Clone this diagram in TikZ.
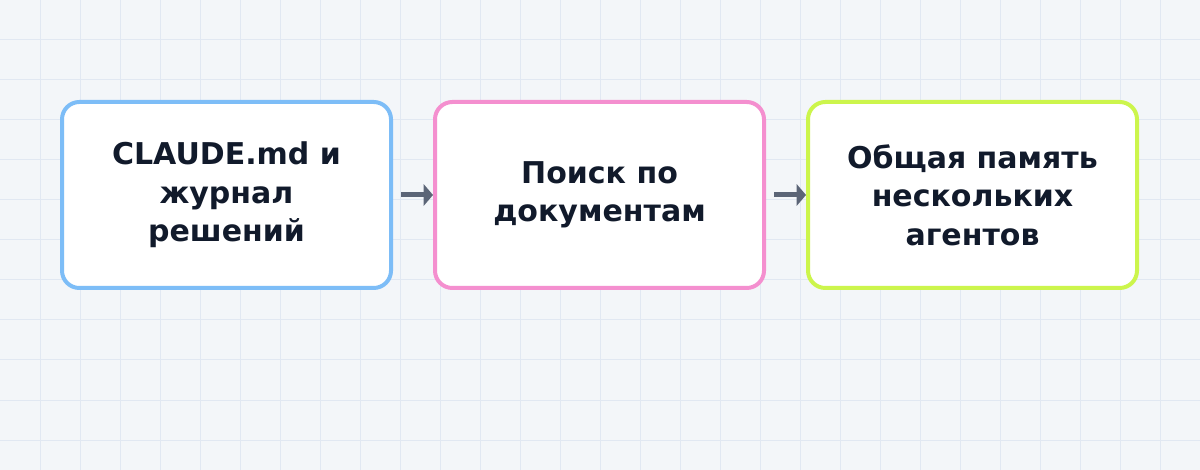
\documentclass[tikz,border=0pt]{standalone}
\usepackage{fontspec}
\setmainfont{DejaVu Sans}
\usetikzlibrary{arrows.meta}
\definecolor{bg}{HTML}{F3F6F9}
\definecolor{gridc}{HTML}{E1E8F2}
\definecolor{cblue}{HTML}{7DBDF7}
\definecolor{cpink}{HTML}{F48FCF}
\definecolor{clime}{HTML}{CCF54C}
\definecolor{ctext}{HTML}{111A2B}
\definecolor{carrow}{HTML}{5B6577}
\tikzset{
  card/.style={draw, fill=white, line width=3pt, rounded corners=13pt,
    minimum width=246.75pt, minimum height=139.5pt, align=center,
    text=ctext, font=\fontsize{22.5pt}{28.8pt}\selectfont\bfseries},
  link/.style={draw=carrow, line width=3.75pt,
    -{Triangle[length=7pt,width=16pt]}, shorten <=6pt}
}
\begin{document}
\begin{tikzpicture}[x=0.75pt,y=-0.75pt]
\fill[bg] (0,0) rectangle (1200,470);
\useasboundingbox (0,0) rectangle (1200,470);
\foreach \i in {40,80,...,1160} \draw[gridc, line width=0.75pt] (\i,0) -- (\i,470);
\foreach \j in {40,80,...,440} \draw[gridc, line width=0.75pt] (0,\j) -- (1200,\j);
\node[card, draw=cblue] (b1) at (226.5,195) {CLAUDE.md и\\журнал\\решений};
\node[card, draw=cpink] (b2) at (599.5,195) {Поиск по\\документам};
\node[card, draw=clime] (b3) at (972.5,195) {Общая память\\нескольких\\агентов};
\draw[link] (b1) -- (b2);
\draw[link] (b2) -- (b3);
\end{tikzpicture}
\end{document}
